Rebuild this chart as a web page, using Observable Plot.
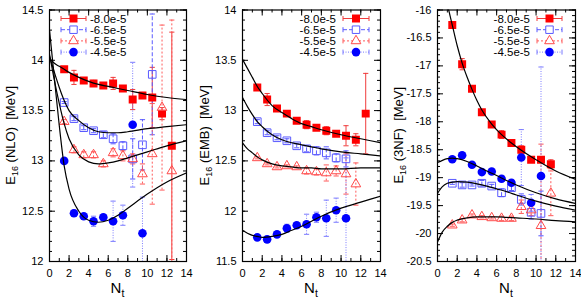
<!DOCTYPE html>
<html><head><meta charset="utf-8">
<script src="https://cdn.jsdelivr.net/npm/d3@7"></script>
<script src="https://cdn.jsdelivr.net/npm/@observablehq/plot@0.6"></script>
<style>
html,body{margin:0;padding:0;background:#fff;}
#root{position:relative;width:581px;height:307px;overflow:hidden;font-family:"Liberation Sans",Arial,sans-serif;}
#root svg{position:absolute;top:0;overflow:visible;}
</style></head><body><div id="root"></div>
<script>
// ---------- data ----------
const nt = [1.5,2.5,3.5,4.5,5.5,6.5,7.5,8.5,9.5,10.5,11.5,12.5];
const seriesNames = ["-8.0e-5","-6.5e-5","-5.5e-5","-4.5e-5"];
const xTicks = [0,2,4,6,8,10,12,14];

// E16 (NLO)
const nloRed    = [13.91,13.83,13.80,13.77,13.75,13.77,13.72,13.61,13.65,13.63,13.47,13.15];
const nloRedErr = [0.02,0.07,0.02,0.03,0.02,0.06,0.02,0.10,0.03,0.30,0.06,1.13];
const nloSq     = [13.58,13.42,13.33,13.30,13.26,13.22,13.15,13.02,13.16,13.86];
const nloSqErr  = [0.01,0.02,0.02,0.02,0.03,0.05,0.04,0.20,0.25,0.60];
const nloTri    = [13.39,13.11,13.06,13.06,12.97,13.08,13.05,13.02,12.87,13.07,13.53,12.90];
const nloTriErr = [0.02,0.03,0.03,0.03,0.03,0.04,0.05,0.05,0.10,0.50,0.82,1.50];
const nloCirc   = [13.00,12.48,12.45,12.40,12.44,12.40,12.46,13.36,12.28];
const nloCircErr= [0.01,0.03,0.02,0.05,0.02,0.20,0.10,0.62,0.36];
const fitX      = [0,0.5,1,1.5,2,3,4,5,6,7,8,10,12,14];
const nloFitRed = [14.02,13.97,13.94,13.91,13.88,13.83,13.79,13.76,13.74,13.72,13.70,13.66,13.63,13.61];
const nloFitSq  = [14.04,13.88,13.73,13.60,13.50,13.40,13.33,13.29,13.28,13.28,13.29,13.32,13.34,13.36];
const nloFitTri = [14.06,13.80,13.57,13.37,13.22,13.06,12.99,12.97,12.98,13.00,13.03,13.09,13.15,13.20];
const nloFitCirc= [14.30,13.82,13.35,12.95,12.72,12.50,12.41,12.39,12.41,12.46,12.53,12.67,12.79,12.88];
const nloYTicks = [12,12.5,13,13.5,14,14.5];

// E16 (EMB)
const embRed    = [13.23,13.11,13.02,12.97,12.90,12.86,12.83,12.80,12.77,12.75,12.71,12.97];
const embRedErr = [0.02,0.06,0.02,0.02,0.02,0.04,0.02,0.04,0.02,0.10,0.06,0.40];
const embSq     = [12.89,12.78,12.73,12.70,12.65,12.62,12.60,12.58,12.53,12.52];
const embSqErr  = [0.02,0.02,0.02,0.02,0.02,0.03,0.04,0.06,0.04,0.08];
const embTri    = [12.53,12.47,12.44,12.45,12.44,12.40,12.39,12.38,12.40,12.37,12.27];
const embTriErr = [0.01,0.01,0.01,0.01,0.01,0.03,0.03,0.08,0.05,0.20,0.21];
const embCirc   = [11.74,11.72,11.77,11.83,11.86,11.87,11.94,11.93,12.01,11.93];
const embCircErr= [0.02,0.03,0.02,0.04,0.02,0.10,0.05,0.18,0.12,0.60];
const embFitRed = [13.51,13.42,13.33,13.24,13.17,13.05,12.98,12.92,12.87,12.84,12.81,12.76,12.72,12.68];
const embFitSq  = [13.13,13.04,12.96,12.89,12.84,12.76,12.71,12.68,12.66,12.64,12.62,12.59,12.57,12.55];
const embFitTri = [12.68,12.62,12.58,12.54,12.51,12.47,12.45,12.44,12.43,12.43,12.42,12.42,12.43,12.43];
const embFitCirc= [11.81,11.78,11.76,11.75,11.74,11.75,11.77,11.81,11.85,11.90,11.95,12.03,12.09,12.15];
const embYTicks = [11.5,12,12.5,13,13.5,14];

// E16 (3NF)
const tnfRed    = [-16.27,-16.97,-17.41,-17.83,-18.05,-18.23,-18.38,-18.50,-18.68,-18.68,-18.76];
const tnfRedErr = [0.02,0.10,0.02,0.04,0.02,0.07,0.03,0.07,0.03,0.05,0.08];
const tnfSq     = [-19.10,-19.13,-19.13,-19.10,-19.15,-19.27,-19.18,-19.39,-19.62,-19.64];
const tnfSqErr  = [0.02,0.04,0.02,0.05,0.03,0.07,0.05,0.10,0.12,0.40];
const tnfTri    = [-19.85,-19.76,-19.67,-19.70,-19.72,-19.73,-19.73,-19.52,-19.58,-19.86,-19.28];
const tnfTriErr = [0.02,0.03,0.02,0.02,0.02,0.04,0.04,0.12,0.10,1.46,0.40];
const tnfCirc   = [-18.67,-18.60,-18.77,-18.90,-18.89,-19.02,-19.09,-18.64,-19.45,-18.97];
const tnfCircErr= [0.02,0.05,0.02,0.05,0.02,0.05,0.05,0.50,0.15,1.95];
const tnfFitRedX= [1,1.5,2,2.5,3,3.5,4,4.5,5.5,6.5,7.5,8.5,10,12,14];
const tnfFitRed = [-15.90,-16.27,-16.64,-16.95,-17.20,-17.42,-17.62,-17.79,-18.04,-18.23,-18.38,-18.51,-18.68,-18.88,-19.03];
const tnfFitSq  = [-19.28,-19.16,-19.10,-19.08,-19.07,-19.08,-19.11,-19.15,-19.20,-19.25,-19.31,-19.42,-19.51,-19.58];
const tnfFitTri = [-20.15,-19.97,-19.87,-19.80,-19.76,-19.72,-19.70,-19.70,-19.70,-19.71,-19.72,-19.74,-19.77,-19.79];
const tnfFitCirc= [-18.73,-18.69,-18.66,-18.65,-18.66,-18.71,-18.79,-18.88,-18.96,-19.05,-19.13,-19.27,-19.38,-19.46];
const tnfYTicks = [-20.5,-20,-19.5,-19,-18.5,-18,-17.5,-17,-16.5,-16];

// ---------- styles ----------
const styles = [
  {symbol:"square",   r:4.5, fill:"#ff0000", stroke:"none",    sw:0, err:"#f03c3c", dash:null,  lsize:64},
  {symbol:"square",   r:4.3, fill:"none",    stroke:"#5a5aff", sw:1, err:"#5a5aff", dash:"4,2", lsize:56},
  {symbol:"triangle", r:3.6, fill:"none",    stroke:"#ff4a4a", sw:1, err:"#ff5a5a", dash:"2,2", lsize:41},
  {symbol:"circle",   r:4.3, fill:"#0000ff", stroke:"none",    sw:0, err:"#7a7aff", dash:"1,1.5", lsize:58}
];
const capSym = {draw(ctx, size){ const w = Math.sqrt(size/Math.PI); ctx.moveTo(-w,0); ctx.lineTo(w,0); }};

function rows(vals, errs){ return vals.map((v,i)=>({x:nt[i], y:v, lo:v-errs[i], hi:v+errs[i]})); }
function pts(xs, ys){ return ys.map((y,i)=>({x:xs[i], y})); }
function rangeStep(lo, hi, step){ const n = Math.round((hi-lo)/step); return d3.range(n+1).map(i=>+(lo+i*step).toFixed(3)); }

const root = d3.select("#root");
const H = 307, mT = 9.5, mB = 46;

function panel(cfg){
  const {left, width, mL, mR, yTicks, data, fits, name} = cfg;
  const ph = H - mT - mB, pw = width - mL - mR;
  const ydom = [yTicks[0], yTicks[yTicks.length-1]];
  const xMinor = rangeStep(0,14,1);
  const yMinor = rangeStep(ydom[0], ydom[1], 0.1);
  const marks = [];
  data.forEach((d,k)=>{
    const s = styles[k];
    const r = rows(d[0], d[1]);
    marks.push(Plot.ruleX(r, {x:"x", y1:"lo", y2:"hi", stroke:s.err, strokeWidth:1, strokeDasharray:s.dash, clip:true}));
    marks.push(Plot.dot(r, {x:"x", y:"lo", symbol:capSym, r:2.6, stroke:s.err, strokeWidth:1, clip:true}));
    marks.push(Plot.dot(r, {x:"x", y:"hi", symbol:capSym, r:2.6, stroke:s.err, strokeWidth:1, clip:true}));
  });
  data.forEach((d,k)=>{
    const s = styles[k];
    const r = rows(d[0], d[1]);
    marks.push(Plot.dot(r, {x:"x", y:"y", symbol:s.symbol, r:s.r, fill:s.fill, stroke:s.stroke, strokeWidth:s.sw, clip:true}));
  });
  fits.forEach(f=>{
    marks.push(Plot.line(pts(f[0], f[1]), {x:"x", y:"y", curve:"monotone-x", stroke:"#000", strokeWidth:1.2, clip:true}));
  });
  marks.push(Plot.tickX(xMinor, {x:d=>d, insetTop:ph-3, stroke:"#000"}));
  marks.push(Plot.tickX(xTicks, {x:d=>d, insetTop:ph-6, stroke:"#000"}));
  marks.push(Plot.tickX(xMinor, {x:d=>d, insetBottom:ph-3, stroke:"#000"}));
  marks.push(Plot.tickX(xTicks, {x:d=>d, insetBottom:ph-6, stroke:"#000"}));
  marks.push(Plot.tickY(yMinor, {y:d=>d, insetRight:pw-3, stroke:"#000"}));
  marks.push(Plot.tickY(yTicks, {y:d=>d, insetRight:pw-6, stroke:"#000"}));
  marks.push(Plot.tickY(yMinor, {y:d=>d, insetLeft:pw-3, stroke:"#000"}));
  marks.push(Plot.tickY(yTicks, {y:d=>d, insetLeft:pw-6, stroke:"#000"}));
  marks.push(Plot.frame({stroke:"#000", strokeWidth:1.2}));
  marks.push(Plot.axisX(xTicks, {tickSize:0, tickPadding:8, label:null, tickFormat:d=>String(d)}));
  marks.push(Plot.axisY(yTicks, {tickSize:0, tickPadding:6, label:null, tickFormat:d=>String(d)}));

  const svgEl = Plot.plot({
    width, height:H, marginLeft:mL, marginRight:mR, marginTop:mT, marginBottom:mB,
    x:{domain:[0,14]}, y:{domain:ydom},
    style:{fontFamily:'"Liberation Sans", Arial, sans-serif', fontSize:"11px", color:"#000", background:"transparent"},
    marks
  });
  root.node().appendChild(svgEl);
  const svg = d3.select(svgEl).style("left", left+"px");

  const yl = svg.append("text")
    .attr("transform", `translate(${cfg.ylabX},${mT + ph/2}) rotate(-90)`)
    .attr("text-anchor","middle").attr("font-size",13).attr("fill","#000")
    .style("white-space","pre");
  yl.append("tspan").text("E");
  yl.append("tspan").attr("font-size",9).attr("dy",3).text("16");
  yl.append("tspan").attr("dy",-3).text(` (${name})  [MeV]`);
  const xl = svg.append("text")
    .attr("x", mL + pw/2).attr("y", 292.5)
    .attr("text-anchor","middle").attr("font-size",15).attr("fill","#000");
  xl.append("tspan").text("N");
  xl.append("tspan").attr("font-size",10.5).attr("dy",4).text("t");

  const L = cfg.legend;
  const rowsY = [18.5, 29.7, 40.9, 52.1];
  seriesNames.forEach((nm,k)=>{
    const s = styles[k];
    const y = rowsY[k];
    const g = svg.append("g");
    g.append("line").attr("x1",L.x1).attr("x2",L.x2).attr("y1",y).attr("y2",y)
      .attr("stroke",s.err).attr("stroke-dasharray",s.dash);
    [L.x1, L.x2].forEach(xx=>g.append("line").attr("x1",xx).attr("x2",xx).attr("y1",y-2.5).attr("y2",y+2.5).attr("stroke",s.err));
    const typ = s.symbol==="square"?d3.symbolSquare:s.symbol==="triangle"?d3.symbolTriangle:d3.symbolCircle;
    g.append("path").attr("d", d3.symbol(typ, s.lsize)()).attr("transform",`translate(${(L.x1+L.x2)/2},${y})`)
      .attr("fill", s.fill==="none"?"#fff":s.fill).attr("stroke", s.stroke).attr("stroke-width", s.sw);
    g.append("text").attr("x", L.tx).attr("y", y).attr("dy","0.35em")
      .attr("text-anchor", L.anchor).attr("font-size", 11.5).attr("fill","#000").text(nm);
  });
}

panel({left:0, width:193, mL:49, mR:7, yTicks:nloYTicks, name:"NLO", ylabX:15,
  data:[[nloRed,nloRedErr],[nloSq,nloSqErr],[nloTri,nloTriErr],[nloCirc,nloCircErr]],
  fits:[[fitX,nloFitRed],[fitX,nloFitSq],[fitX,nloFitTri],[fitX,nloFitCirc]],
  legend:{x1:61, x2:86, tx:90, anchor:"start"}});
panel({left:193, width:194, mL:49, mR:7, yTicks:embYTicks, name:"EMB", ylabX:16,
  data:[[embRed,embRedErr],[embSq,embSqErr],[embTri,embTriErr],[embCirc,embCircErr]],
  fits:[[fitX,embFitRed],[fitX,embFitSq],[fitX,embFitTri],[fitX,embFitCirc]],
  legend:{x1:150, x2:176, tx:143, anchor:"end"}});
panel({left:387, width:194, mL:50, mR:6, yTicks:tnfYTicks, name:"3NF", ylabX:16,
  data:[[tnfRed,tnfRedErr],[tnfSq,tnfSqErr],[tnfTri,tnfTriErr],[tnfCirc,tnfCircErr]],
  fits:[[tnfFitRedX,tnfFitRed],[fitX,tnfFitSq],[fitX,tnfFitTri],[fitX,tnfFitCirc]],
  legend:{x1:150, x2:175, tx:143, anchor:"end"}});
</script>
</body></html>
